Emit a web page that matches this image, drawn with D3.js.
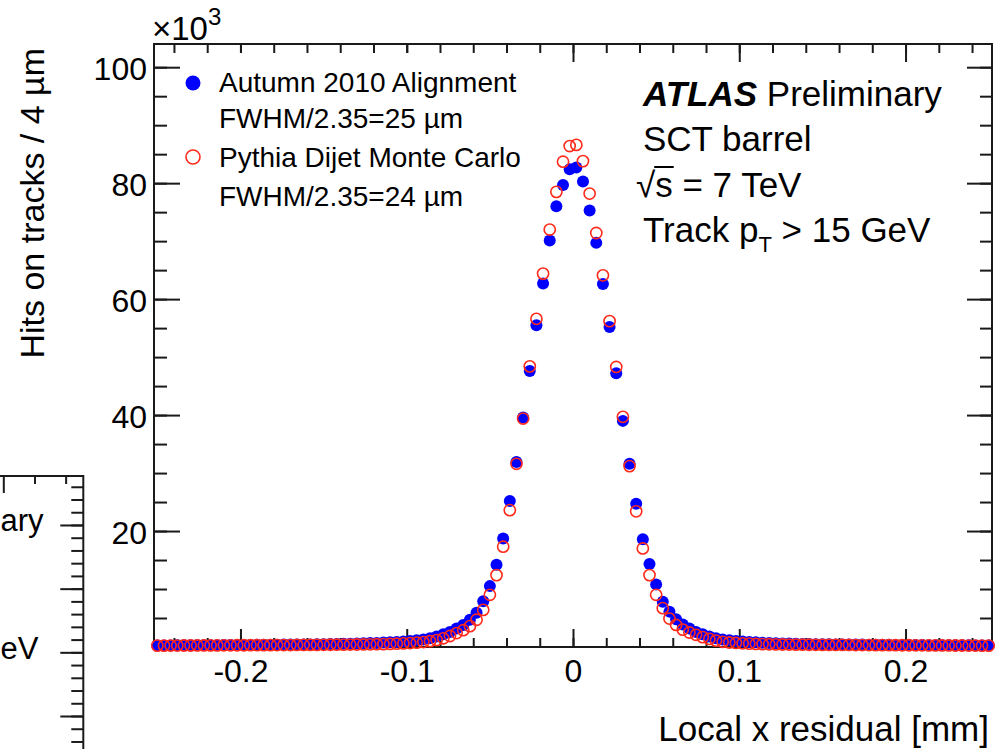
<!DOCTYPE html>
<html>
<head>
<meta charset="utf-8">
<script src="https://cdn.jsdelivr.net/npm/d3@7"></script>
<style>
body { margin: 0; background: #fff; }
svg { display: block; }
text { font-family: "Liberation Sans", Arial, Helvetica, sans-serif; fill: #000; }
</style>
</head>
<body>
<svg id="chart" width="1008" height="749"></svg>
<script>
// histogram binning: 126 bins of 4 um from -0.252 to 0.252 mm
var BIN_LO = -0.252, BIN_HI = 0.252, BIN_WIDTH = 0.004;

// hits on tracks per bin, in units of 10^3 (data, Autumn 2010 alignment)
var dataHits = [
  0.27,0.28,0.28,0.29,0.29,0.30,0.30,0.31,0.32,0.32,0.33,0.34,0.35,0.36,0.36,0.37,0.38,0.39,0.40,0.41,0.42,0.43,0.44,0.45,0.46,
  0.48,0.50,0.52,0.54,0.57,0.60,0.63,0.67,0.71,0.76,0.82,0.88,0.95,1.04,1.15,1.3,1.5,1.8,2.2,2.6,3.2,3.8,4.7,5.9,7.9,
  10.5,14.2,18.7,25.2,31.9,39.6,47.6,55.5,62.7,70.1,76.0,79.7,82.4,
  82.7,80.3,75.3,69.7,62.6,55.2,47.2,39.0,31.6,24.7,18.6,14.3,10.8,7.8,6.1,4.8,3.9,3.2,2.6,2.2,1.8,1.5,1.3,1.15,1.02,
  0.94,0.87,0.81,0.75,0.70,0.66,0.62,0.59,0.56,0.53,0.51,0.49,0.47,
  0.46,0.45,0.44,0.43,0.42,0.41,0.40,0.39,0.38,0.37,0.36,0.35,0.35,0.34,0.33,0.32,0.31,0.31,0.30,0.30,0.29,0.29,0.28,0.28,0.27
];

// Pythia dijet Monte Carlo
var mcHits = [
  0.24,0.24,0.25,0.25,0.26,0.26,0.27,0.27,0.28,0.28,0.29,0.29,0.30,0.30,0.31,0.31,0.32,0.32,0.33,0.34,0.34,0.35,0.36,0.36,0.37,
  0.38,0.39,0.40,0.41,0.42,0.43,0.44,0.46,0.48,0.50,0.53,0.57,0.62,0.68,0.75,0.85,1.0,1.2,1.5,1.9,2.4,2.9,3.6,4.7,6.4,
  9.0,12.4,17.3,23.6,31.6,39.4,48.4,56.6,64.4,72.0,78.5,83.7,86.4,
  86.6,83.8,78.2,71.4,64.1,56.2,48.3,39.7,31.2,23.4,17.0,12.4,9.0,6.7,4.9,3.8,3.0,2.5,2.1,1.7,1.4,1.1,0.9,0.78,0.70,
  0.63,0.58,0.53,0.50,0.47,0.45,0.43,0.42,0.41,0.40,0.39,0.38,0.37,
  0.37,0.36,0.36,0.35,0.34,0.34,0.33,0.32,0.32,0.31,0.31,0.30,0.30,0.29,0.29,0.28,0.28,0.27,0.27,0.26,0.26,0.25,0.25,0.24,0.24
];

var xMajorTicks = [-0.2, -0.1, 0, 0.1, 0.2];
var xTickLabels = ["-0.2", "-0.1", "0", "0.1", "0.2"];
var yMajorTicks = [20, 40, 60, 80, 100];
var legendLabels = [
  ["Autumn 2010 Alignment", "FWHM/2.35=25 \u00b5m"],
  ["Pythia Dijet Monte Carlo", "FWHM/2.35=24 \u00b5m"]
];

var svg = d3.select("#chart");
var AXIS = "#1a1a1a";

var x = d3.scaleLinear().domain([BIN_LO, BIN_HI]).range([154, 992]);
var y = d3.scaleLinear().domain([0, 104]).range([647, 44]);

var binCenters = d3.range(dataHits.length).map(function(i){ return BIN_LO + BIN_WIDTH * (i + 0.5); });
var xMinor = d3.range(-24, 25, 2).map(function(d){ return d / 100; });
var yMinor = d3.range(5, 104, 5);

// ---- partial neighbouring plot peeking in at the lower left ----
var ghostY = d3.scaleLinear().domain([0, 4]).range([716, 461.3]);
var ghostX = d3.scaleLinear().domain([0, 1]).range([3.3, 315]);
var ghost = svg.append("g");
ghost.append("g").attr("transform", "translate(83.3,0)")
  .call(d3.axisRight(ghostY).tickValues(d3.range(-0.6, 3.8, 0.2)).tickSize(-12).tickSizeOuter(0).tickFormat(""));
ghost.append("g").attr("transform", "translate(83.3,0)")
  .call(d3.axisRight(ghostY).tickValues([0, 1, 2, 3]).tickSize(-23).tickSizeOuter(0).tickFormat(""));
ghost.append("g").attr("transform", "translate(0,476)")
  .call(d3.axisTop(ghostX).tickValues([0.1, 0.2]).tickSize(-8).tickSizeOuter(0).tickFormat(""));
ghost.append("g").attr("transform", "translate(0,476)")
  .call(d3.axisTop(ghostX).tickValues([0]).tickSize(-17).tickSizeOuter(0).tickFormat(""));
ghost.selectAll(".domain").remove();
ghost.selectAll("line").attr("stroke", AXIS).attr("stroke-width", 2);
ghost.append("path").attr("d", "M0,476H83.3V749").attr("fill", "none").attr("stroke", AXIS).attr("stroke-width", 2);
ghost.append("text").attr("x", 0.5).attr("y", 531).attr("font-size", 31).text("ary");
ghost.append("text").attr("x", 0.5).attr("y", 659).attr("font-size", 31).text("eV");

// ---- axes ----
function styleAxis(g) {
  g.selectAll(".domain").remove();
  g.selectAll("line").attr("stroke", AXIS).attr("stroke-width", 2);
}
var axes = svg.append("g");
axes.append("g").attr("transform", "translate(0,647)")
  .call(d3.axisBottom(x).tickValues(xMinor).tickSize(-9).tickSizeOuter(0).tickFormat("")).call(styleAxis);
axes.append("g").attr("transform", "translate(0,647)")
  .call(d3.axisBottom(x).tickValues(xMajorTicks).tickSize(-18).tickSizeOuter(0).tickPadding(12)
    .tickFormat(function(d, i){ return xTickLabels[i]; }))
  .call(styleAxis)
  .selectAll("text").attr("font-size", 32).attr("fill", "#000").attr("font-family", null);
axes.append("g").attr("transform", "translate(0,44)")
  .call(d3.axisTop(x).tickValues(xMinor).tickSize(-9).tickSizeOuter(0).tickFormat("")).call(styleAxis);
axes.append("g").attr("transform", "translate(0,44)")
  .call(d3.axisTop(x).tickValues(xMajorTicks).tickSize(-18).tickSizeOuter(0).tickFormat("")).call(styleAxis);
axes.append("g").attr("transform", "translate(154,0)")
  .call(d3.axisLeft(y).tickValues(yMinor).tickSize(-13).tickSizeOuter(0).tickFormat("")).call(styleAxis);
axes.append("g").attr("transform", "translate(154,0)")
  .call(d3.axisLeft(y).tickValues(yMajorTicks).tickSize(-26).tickSizeOuter(0).tickPadding(7).tickFormat(d3.format("d")))
  .call(styleAxis)
  .selectAll("text").attr("font-size", 32).attr("fill", "#000").attr("font-family", null).attr("dy", "0.38em");
axes.append("g").attr("transform", "translate(992,0)")
  .call(d3.axisRight(y).tickValues(yMinor).tickSize(-12).tickSizeOuter(0).tickFormat("")).call(styleAxis);
axes.append("g").attr("transform", "translate(992,0)")
  .call(d3.axisRight(y).tickValues(yMajorTicks).tickSize(-25).tickSizeOuter(0).tickFormat("")).call(styleAxis);

axes.append("rect")
  .attr("x", x(BIN_LO)).attr("y", y(104))
  .attr("width", x(BIN_HI) - x(BIN_LO)).attr("height", y(0) - y(104))
  .attr("fill", "none").attr("stroke", AXIS).attr("stroke-width", 2);

// legend box (white fill hides the top ticks behind it)
svg.append("rect").attr("x", 182).attr("y", 53).attr("width", 350).attr("height", 162).attr("fill", "#fff");

// ---- points ----
var points = binCenters.map(function(c, i){ return { x: c, data: dataHits[i], mc: mcHits[i] }; });

svg.append("g").selectAll("circle").data(points).enter().append("circle")
  .attr("cx", function(d){ return x(d.x); })
  .attr("cy", function(d){ return y(d.data); })
  .attr("r", 6)
  .attr("fill", "#0000ff");

svg.append("g").selectAll("circle").data(points).enter().append("circle")
  .attr("cx", function(d){ return x(d.x); })
  .attr("cy", function(d){ return y(d.mc); })
  .attr("r", 5.6)
  .attr("fill", "none")
  .attr("stroke", "#ff2a1a")
  .attr("stroke-width", 1.6);

// ---- legend ----
var legend = svg.append("g");
legend.append("circle").attr("cx", 193).attr("cy", 83).attr("r", 7.5).attr("fill", "#0000ff");
legend.append("circle").attr("cx", 193).attr("cy", 157).attr("r", 7).attr("fill", "none")
  .attr("stroke", "#ff2a1a").attr("stroke-width", 1.6);
var legendRows = [legendLabels[0][0], legendLabels[0][1], legendLabels[1][0], legendLabels[1][1]];
var legendBase = [92, 128, 167, 206];
legendRows.forEach(function(t, i){
  legend.append("text").attr("x", 219).attr("y", legendBase[i]).attr("font-size", 28).text(t);
});

// ---- ATLAS labels ----
var lab = svg.append("g").attr("font-size", 35);
var t1 = lab.append("text").attr("x", 643).attr("y", 106);
t1.append("tspan").attr("font-weight", "bold").attr("font-style", "italic").text("ATLAS");
t1.append("tspan").text(" Preliminary");
lab.append("text").attr("x", 643).attr("y", 151).text("SCT barrel");
var t3 = lab.append("text").attr("x", 636).attr("y", 197).text("\u221as = 7 TeV");
var n3 = t3.node();
var s0 = n3.getStartPositionOfChar(1).x, s1 = n3.getEndPositionOfChar(1).x;
lab.append("line").attr("x1", s0 - 1).attr("x2", s1 + 1).attr("y1", 167).attr("y2", 167)
  .attr("stroke", "#000").attr("stroke-width", 2);
var t4 = lab.append("text").attr("x", 643).attr("y", 242);
t4.append("tspan").text("Track p");
t4.append("tspan").attr("font-size", 22).attr("dy", 10).text("T");
t4.append("tspan").attr("dy", -10).text(" > 15 GeV");

// ---- axis titles ----
svg.append("text").attr("x", 989).attr("y", 741).attr("text-anchor", "end").attr("font-size", 35)
  .text("Local x residual [mm]");
svg.append("text").attr("transform", "translate(44,48) rotate(-90)").attr("text-anchor", "end").attr("font-size", 34)
  .text("Hits on tracks / 4 \u00b5m");

var mult = svg.append("text").attr("x", 152).attr("y", 40).attr("font-size", 33);
mult.append("tspan").text("\u00d710");
mult.append("tspan").attr("font-size", 24).attr("dy", -15).text("3");
</script>
</body>
</html>
